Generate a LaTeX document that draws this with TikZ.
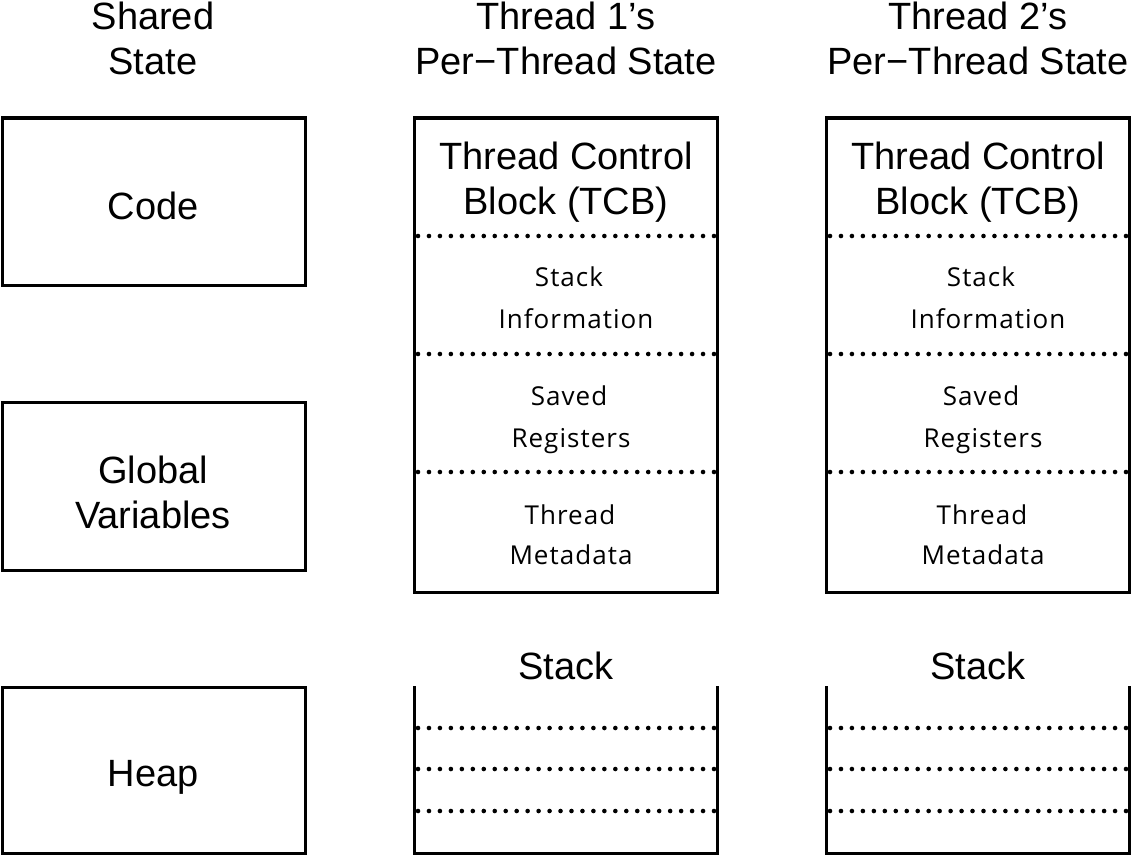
\documentclass[tikz,border=0pt]{standalone}
\usepackage{fontspec}
\setmainfont{Liberation Sans}
\newfontfamily\smallfont[LetterSpace=4]{Open Sans}
\begin{document}
\begin{tikzpicture}[x=1pt,y=-1pt,
  box/.style={draw=black,line width=3pt},
  big/.style={font=\fontsize{38}{45}\selectfont,anchor=base,inner sep=0pt},
  sml/.style={font=\smallfont\fontsize{26}{30}\selectfont,anchor=base,inner sep=0pt}]
\newcommand{\dotrow}[1]{\foreach \i in {0,...,27}{\fill (418+\i*10.963,#1) circle (2.3);}}
\useasboundingbox (0,0) rectangle (1131,856);
% headers
\node[big] (h0a) at (153,30) {Shared};
\node[big] (h0b) at (153,75) {State};
\node[big] (h1a) at (566,30) {Thread 1’s};
\node[big] (h1b) at (566,75) {Per{\char"2212}Thread State};
\node[big] (h2a) at (978,30) {Thread 2’s};
\node[big] (h2b) at (978,75) {Per{\char"2212}Thread State};
% shared boxes
\draw[box] (2,118) rectangle (305,285);
\node[big] (code) at (153,219) {Code};
\draw[box] (2,402) rectangle (305,570);
\node[big] (gv1) at (153,483) {Global};
\node[big] (gv2) at (153,528) {Variables};
\draw[box] (2,687) rectangle (305,853);
\node[big] (heap) at (153,786) {Heap};
% thread columns
\foreach \dx/\n in {0/1,412/2}{
  \begin{scope}[xshift=\dx]
  \draw[box] (414,118) rectangle (717,592);
  \node[big] (tcb\n a) at (566,169) {Thread Control};
  \node[big] (tcb\n b) at (566,214) {Block (TCB)};
  \dotrow{236}
  \dotrow{354}
  \dotrow{472}
  \node[sml] (si\n a) at (569,286) {Stack};
  \node[sml] (si\n b) at (576,328) {Information};
  \node[sml] (sr\n a) at (569,405) {Saved};
  \node[sml] (sr\n b) at (571,447) {Registers};
  \node[sml] (tm\n a) at (570,524) {Thread};
  \node[sml] (tm\n b) at (571,564) {Metadata};
  \node[big] (st\n) at (566,679) {Stack};
  \draw[box] (414,686) -- (414,853) -- (717,853) -- (717,686);
  \dotrow{728}
  \dotrow{769}
  \dotrow{811}
  \end{scope}
}
\end{tikzpicture}
\end{document}
